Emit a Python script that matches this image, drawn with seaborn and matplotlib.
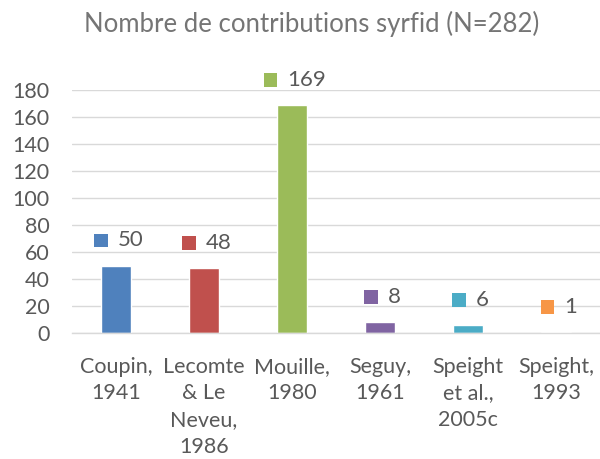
import matplotlib
matplotlib.use("Agg")
import matplotlib.pyplot as plt
import seaborn as sns
import pandas as pd
from matplotlib.offsetbox import HPacker, DrawingArea, TextArea, AnnotationBbox
from matplotlib.patches import Rectangle

categories = ["Coupin,\n1941", "Lecomte\n& Le\nNeveu,\n1986", "Mouille,\n1980",
              "Seguy,\n1961", "Speight\net al.,\n2005c", "Speight,\n1993"]
values = [50, 48, 169, 8, 6, 1]
colors = ["#4F81BD", "#C0504D", "#9BBB59", "#8064A2", "#4BACC6", "#F79646"]
yticks = [0, 20, 40, 60, 80, 100, 120, 140, 160, 180]
title = "Nombre de contributions syrfid (N=282)"

sns.set_theme(style="white")
plt.rcParams["font.family"] = ["Lato", "DejaVu Sans"]
TXT = "#595959"

df = pd.DataFrame({"cat": categories, "val": values})
fig = plt.figure(figsize=(6, 4.59), dpi=100)
ax = fig.add_axes([0.12, 1 - 333 / 459, 0.88, (333 - 90) / 459])
sns.barplot(data=df, x="cat", y="val", hue="cat", palette=colors, width=0.33,
            legend=False, ax=ax, saturation=1)
ax.set_ylim(0, 180)
ax.set_xlim(-0.5, len(categories) - 0.5)
ax.set_yticks(yticks)
ax.yaxis.grid(True, color="#D9D9D9", linewidth=1)
ax.set_axisbelow(True)
for s in ["top", "right", "left"]:
    ax.spines[s].set_visible(False)
ax.spines["bottom"].set_color("#D9D9D9")
ax.spines["bottom"].set_linewidth(1)
ax.tick_params(axis="y", length=0, pad=16, labelsize=15.5, labelcolor=TXT)
ax.tick_params(axis="x", length=0, pad=17, labelsize=15.5, labelcolor=TXT)
ax.set_xlabel("")
ax.set_ylabel("")
for lbl in ax.get_xticklabels():
    lbl.set_verticalalignment("top")
    lbl.set_horizontalalignment("center")
    lbl.set_linespacing(1.43)

for i, (v, c) in enumerate(zip(values, colors)):
    da = DrawingArea(10, 10, 0, 0)
    da.add_artist(Rectangle((0, 0), 10, 10, facecolor=c, edgecolor="none"))
    ta = TextArea(str(v), textprops=dict(color=TXT, fontsize=16))
    box = HPacker(children=[da, ta], align="center", pad=0, sep=7)
    ab = AnnotationBbox(box, (i, v), xybox=(2, 18), xycoords="data",
                        boxcoords="offset points", frameon=False,
                        box_alignment=(0.5, 0.5), annotation_clip=False)
    ax.add_artist(ab)

fig.text(0.52, 1 - 24 / 459, title, ha="center", va="center", fontsize=18.5, color="#757575")
fig.savefig("out.png", dpi=100)
